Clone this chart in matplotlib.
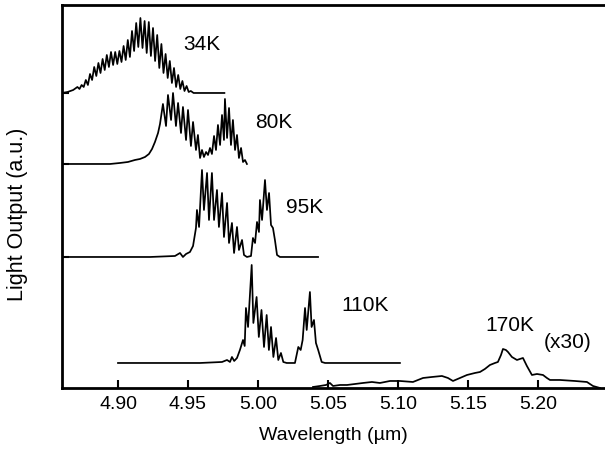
import matplotlib.pyplot as plt

plt.rcParams['font.family'] = ['Liberation Sans', 'DejaVu Sans']

# 34K spectrum (wavelength in um, light output in a.u.)
wl_34 = [4.8600, 4.8640, 4.8680,
         4.8710, 4.8725, 4.8740, 4.8755, 4.8770, 4.8785, 4.8800, 4.8815, 4.8830, 4.8845,
         4.8860, 4.8875, 4.8890, 4.8905, 4.8920, 4.8935, 4.8950, 4.8965, 4.8980, 4.8995,
         4.9010, 4.9025, 4.9040, 4.9055, 4.9070, 4.9085, 4.9100, 4.9115, 4.9130, 4.9145,
         4.9160, 4.9175, 4.9190, 4.9205, 4.9220, 4.9235, 4.9250, 4.9265, 4.9280, 4.9295,
         4.9310, 4.9325, 4.9340, 4.9355, 4.9370, 4.9385, 4.9400, 4.9415, 4.9430, 4.9445,
         4.9460, 4.9475, 4.9490, 4.9505, 4.9520,
         4.9540, 4.9760]
lo_34 = [295, 296, 298,
         301, 299, 303, 301, 308, 303, 314, 308, 321, 312,
         325, 315, 329, 318, 333, 321, 336, 323, 336, 324,
         337, 326, 342, 328, 348, 331, 357, 337, 365, 341,
         370, 340, 367, 335, 366, 332, 360, 327, 353, 320,
         344, 315, 334, 310, 327, 305, 320, 301, 313, 299,
         307, 297, 302, 296, 297,
         295, 295]

# 80K
wl_80 = [4.8600, 4.8800, 4.8943, 4.9014, 4.9071, 4.9121, 4.9157, 4.9193, 4.9221, 4.9243,
         4.9264, 4.9286, 4.9300, 4.9321, 4.9343, 4.9357, 4.9379, 4.9393, 4.9414, 4.9429,
         4.9450, 4.9464, 4.9486, 4.9500, 4.9521, 4.9536, 4.9557, 4.9571, 4.9586, 4.9600,
         4.9614, 4.9629, 4.9643, 4.9657, 4.9671, 4.9686, 4.9700, 4.9714, 4.9729, 4.9743,
         4.9757, 4.9764, 4.9779, 4.9793, 4.9807, 4.9821, 4.9836, 4.9850, 4.9864, 4.9879,
         4.9893, 4.9907, 4.9921]
lo_80 = [224, 224, 224, 225, 226, 228, 229, 231, 234, 239,
         246, 255, 264, 284, 262, 293, 268, 295, 262, 285,
         255, 281, 248, 278, 242, 266, 238, 253, 230, 238,
         231, 236, 233, 240, 234, 252, 238, 263, 243, 273,
         248, 289, 250, 280, 243, 268, 238, 253, 230, 240,
         226, 228, 224]

# 95K
wl_95 = [4.8600, 4.9229, 4.9407, 4.9443, 4.9464, 4.9486, 4.9514, 4.9536, 4.9557, 4.9564,
         4.9579, 4.9600, 4.9614, 4.9636, 4.9650, 4.9671, 4.9686, 4.9707, 4.9721, 4.9743,
         4.9757, 4.9779, 4.9793, 4.9814, 4.9829, 4.9850, 4.9864, 4.9886, 4.9900, 4.9921,
         4.9950, 4.9964, 4.9979, 4.9993, 5.0007, 5.0014, 5.0029, 5.0050, 5.0064, 5.0079,
         5.0093, 5.0107, 5.0121, 5.0136, 5.0157, 5.0429]
lo_95 = [131, 131, 132, 135, 131, 134, 136, 142, 160, 178,
         161, 218, 178, 215, 168, 215, 168, 198, 161, 195,
         151, 185, 145, 165, 135, 161, 138, 148, 133, 131,
         132, 150, 145, 166, 156, 188, 168, 208, 178, 195,
         163, 160, 148, 133, 131, 131]

# 110K
wl_110 = [4.9000, 4.9586, 4.9743, 4.9779, 4.9800, 4.9814, 4.9830, 4.9850, 4.9871, 4.9893,
          4.9905, 4.9914, 4.9929, 4.9955, 4.9967, 4.9990, 5.0006, 5.0025, 5.0043, 5.0062,
          5.0078, 5.0093, 5.0110, 5.0129, 5.0145, 5.0164, 5.0181, 5.0205, 5.0264, 5.0288,
          5.0305, 5.0319, 5.0336, 5.0348, 5.0371, 5.0383, 5.0400, 5.0414, 5.0430, 5.0455,
          5.0479, 5.1014]
lo_110 = [25, 25, 26, 28, 26, 31, 27, 30, 38, 48,
          42, 80, 61, 123, 65, 91, 51, 78, 41, 73,
          38, 61, 31, 50, 28, 35, 26, 25, 25, 41,
          38, 48, 80, 58, 96, 61, 68, 45, 38, 26,
          25, 25]

# 170K (x30)
wl_170 = [5.0393, 5.0443, 5.0486, 5.0514, 5.0536, 5.0586, 5.0636, 5.0693, 5.0750, 5.0814,
          5.0871, 5.0943, 5.1014, 5.1107, 5.1179, 5.1243, 5.1314, 5.1357, 5.1393, 5.1443,
          5.1493, 5.1550, 5.1586, 5.1621, 5.1657, 5.1693, 5.1714, 5.1736, 5.1750, 5.1771,
          5.1786, 5.1814, 5.1850, 5.1871, 5.1893, 5.1921, 5.1957, 5.1993, 5.2036, 5.2064,
          5.2086, 5.2157, 5.2264, 5.2350, 5.2393, 5.2443]
lo_170 = [1, 2, 3, 5, 2, 3, 3, 4, 5, 6,
          5, 7, 7, 6, 10, 11, 12, 10, 7, 10,
          13, 15, 16, 19, 23, 25, 26, 33, 39, 38,
          36, 31, 28, 29, 30, 22, 13, 14, 13, 10,
          8, 8, 7, 6, 2, 0]

labels = ['34K', '80K', '95K', '110K', '170K', '(x30)']
label_wl = [4.960, 5.0114, 5.0336, 5.0764, 5.180, 5.2214]
label_lo = [343, 265, 180, 82, 62, 45]

baselines = [295, 224, 131]

fig = plt.figure(figsize=(6.05, 4.49), dpi=100)
ax = fig.add_axes([0.1025, 0.1359, 0.8975, 0.8530])

for wl, lo in [(wl_34, lo_34), (wl_80, lo_80), (wl_95, lo_95),
               (wl_110, lo_110), (wl_170, lo_170)]:
    ax.plot(wl, lo, color='black', linewidth=1.25)

for txt, x, y in zip(labels, label_wl, label_lo):
    ax.text(x, y, txt, fontsize=15, ha='center', va='center')

ax.set_xlim(4.86, 5.2479)
ax.set_ylim(0, 383)
ax.set_xticks([4.90, 4.95, 5.00, 5.05, 5.10, 5.15, 5.20])
ax.set_xticklabels(['4.90', '4.95', '5.00', '5.05', '5.10', '5.15', '5.20'])
ax.set_yticks(baselines)
ax.tick_params(axis='x', direction='in', length=6, width=1.5, labelsize=14, pad=6)
ax.tick_params(axis='y', direction='in', length=5, width=1.5, labelleft=False)

for side in ['left', 'bottom', 'top']:
    ax.spines[side].set_linewidth(2.0)
ax.spines['right'].set_visible(False)

ax.set_xlabel('Wavelength (\u00b5m)', fontsize=14, labelpad=10)
ax.set_ylabel('Light Output (a.u.)', fontsize=15.5)
ax.yaxis.set_label_coords(-0.062, 0.454)

fig.savefig('out.png', dpi=100)
